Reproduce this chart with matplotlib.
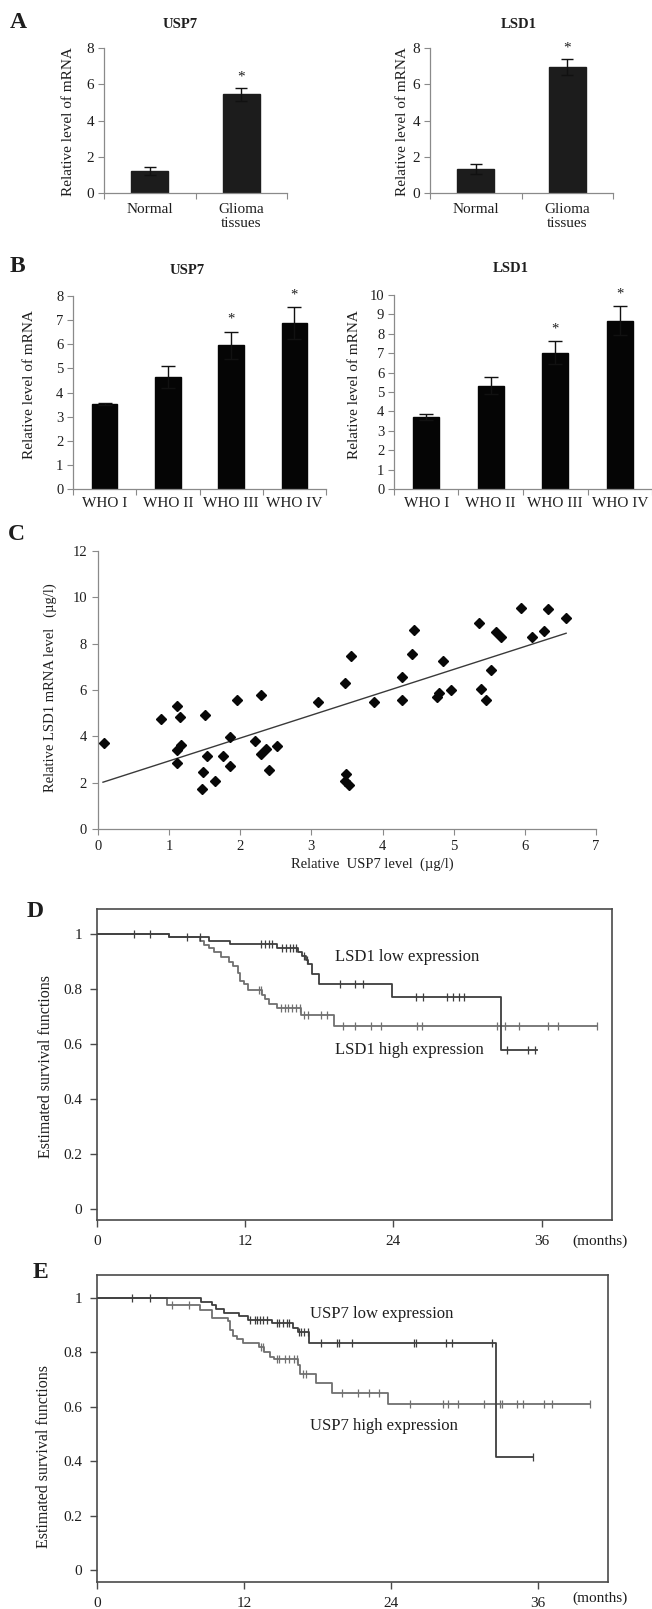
import numpy as np
import matplotlib
matplotlib.use("Agg")
import matplotlib.pyplot as plt

plt.rcParams['font.family'] = ['Liberation Serif', 'DejaVu Serif']
TXT = '#1e1e1e'
SP = '#8a8a8a'

# ---------------- data ----------------
a_cats = ['Normal', 'Glioma\ntissues']
a_usp7 = [1.22, 5.45]
a_usp7_err = [0.2, 0.35]
a_lsd1 = [1.32, 6.95]
a_lsd1_err = [0.28, 0.45]
a_star = [False, True]

b_cats = ['WHO I', 'WHO II', 'WHO III', 'WHO IV']
b_usp7 = [3.52, 4.65, 5.95, 6.88]
b_usp7_err = [0.05, 0.45, 0.57, 0.65]
b_lsd1 = [3.72, 5.33, 7.02, 8.68]
b_lsd1_err = [0.15, 0.42, 0.6, 0.75]
b_star = [False, False, True, True]

c_usp7 = [0.08, 0.89, 1.11, 1.15, 1.11, 1.16, 1.11, 1.51, 1.53, 1.48, 1.46, 1.64,
          1.75, 1.85, 1.85, 1.96, 2.21, 2.29, 2.29, 2.36, 2.40, 2.51, 3.09, 3.47,
          3.55, 3.49, 3.47, 3.53, 3.88, 4.28, 4.28, 4.42, 4.44, 4.77, 4.79, 4.85,
          4.96, 5.35, 5.39, 5.45, 5.52, 5.59, 5.67, 5.94, 6.10, 6.27, 6.33, 6.58]
c_lsd1 = [3.73, 4.73, 5.32, 4.85, 3.41, 3.63, 2.87, 4.90, 3.17, 2.45, 1.73, 2.08,
          3.14, 2.70, 3.96, 5.58, 3.81, 5.78, 3.23, 3.44, 2.55, 3.57, 5.48, 6.32,
          7.48, 2.38, 2.09, 1.91, 5.48, 6.54, 5.58, 7.57, 8.59, 5.68, 5.89, 7.25,
          6.02, 8.89, 6.05, 5.58, 6.85, 8.50, 8.27, 9.56, 8.29, 8.53, 9.48, 9.09]
c_trend_x = [0.07, 6.58]
c_trend_y = [2.02, 8.45]

d_low_t = [0, 5.8, 9.1, 10.8, 14.6, 16.3, 16.6, 16.9, 17.1, 17.4, 18.0, 23.9, 32.7]
d_low_s = [1.0, 0.99, 0.975, 0.963, 0.95, 0.935, 0.92, 0.905, 0.89, 0.855, 0.818, 0.77, 0.58]
d_low_end = 35.6
d_low_cens = [3.0, 4.3, 7.3, 8.3, 13.3, 13.6, 13.9, 14.2, 15.0, 15.3, 15.6, 15.9, 16.1,
              16.8, 17.0, 19.7, 20.9, 21.5, 25.8, 26.4, 28.3, 28.8, 29.3, 29.7, 33.2, 34.9, 35.5]
d_high_t = [0, 5.8, 8.35, 8.7, 9.1, 9.5, 10.0, 10.7, 11.05, 11.4, 11.6, 11.9, 12.2,
            13.35, 13.6, 13.9, 14.6, 16.5, 19.2]
d_high_s = [1.0, 0.99, 0.975, 0.96, 0.948, 0.935, 0.918, 0.90, 0.882, 0.858, 0.83, 0.818,
            0.797, 0.78, 0.762, 0.745, 0.73, 0.705, 0.664]
d_high_end = 40.5
d_high_cens = [13.1, 13.3, 14.9, 15.2, 15.5, 15.8, 16.1, 16.4, 16.8, 17.1, 18.1, 18.6,
               19.9, 20.9, 22.2, 23.0, 25.9, 26.3, 32.4, 33.0, 34.2, 36.5, 37.3, 40.5]

e_low_t = [0, 8.5, 9.4, 9.7, 10.4, 11.6, 12.3, 14.3, 16.0, 16.4, 17.3, 32.6]
e_low_s = [1.0, 0.985, 0.973, 0.96, 0.947, 0.936, 0.92, 0.908, 0.89, 0.877, 0.834, 0.416]
e_low_end = 35.6
e_low_cens = [2.9, 4.3, 12.5, 12.9, 13.1, 13.3, 13.6, 13.9, 14.7, 14.9, 15.2, 15.5, 15.7,
              16.5, 16.7, 16.9, 17.2, 18.3, 19.6, 19.8, 20.8, 25.9, 26.1, 28.5, 29.0, 32.3, 35.6]
e_high_t = [0, 5.7, 8.4, 9.4, 10.7, 10.85, 11.1, 11.4, 11.9, 13.2, 13.65, 14.1, 14.5,
            16.4, 16.6, 17.9, 19.2, 23.8]
e_high_s = [1.0, 0.973, 0.957, 0.926, 0.914, 0.883, 0.86, 0.85, 0.834, 0.822, 0.80, 0.785,
            0.775, 0.755, 0.72, 0.687, 0.65, 0.611]
e_high_end = 40.3
e_high_cens = [6.1, 7.5, 13.4, 13.6, 14.7, 14.9, 15.4, 15.7, 16.1, 16.3, 16.8, 17.1, 20.0,
               21.3, 22.2, 23.0, 25.6, 28.3, 28.7, 29.5, 31.6, 32.9, 33.1, 34.3, 34.8,
               36.5, 37.2, 40.3]

km_ticks = [0, 12, 24, 36]
km_yticks = [0, 0.2, 0.4, 0.6, 0.8, 1.0]
km_yticklabels = ['0', '0.2', '0.4', '0.6', '0.8', '1']

# ---------------- figure ----------------
W, H = 652, 1609
fig = plt.figure(figsize=(W / 100, H / 100), dpi=100)


def ax_at(x0, y0, x1, y1):
    return fig.add_axes([x0 / W, 1 - y1 / H, (x1 - x0) / W, (y1 - y0) / H])


def ftext(x, y, s, **kw):
    kw.setdefault('color', TXT)
    return fig.text(x / W, 1 - y / H, s, **kw)


def bar_panel(ax, cats, vals, errs, stars, ymax, ystep, color, capsize, fs_y, fs_x, pad):
    n = len(cats)
    xs = np.arange(n)
    ax.bar(xs, vals, width=0.4, color=color, edgecolor=color, zorder=2)
    ax.errorbar(xs, vals, yerr=errs, fmt='none', ecolor='#111111', elinewidth=1.0,
                capsize=capsize, capthick=1.0, zorder=3)
    for x, v, e, s in zip(xs, vals, errs, stars):
        if s:
            ax.text(x, v + e + ymax * 0.03, '*', ha='center', va='bottom', fontsize=fs_y,
                    color=TXT)
    ax.set_xlim(-0.5, n - 0.5)
    ax.set_ylim(0, ymax)
    ax.set_yticks(np.arange(0, ymax + 0.01, ystep))
    ax.set_xticks(np.arange(-0.5, n, 1.0))
    ax.set_xticklabels([])
    ax.set_xticks(xs, cats, minor=True)
    ax.tick_params(axis='x', which='minor', length=0, pad=pad, labelsize=fs_x, labelcolor=TXT)
    ax.tick_params(axis='x', which='major', length=4, color=SP, direction='out')
    ax.tick_params(axis='y', length=4, color=SP, labelsize=fs_y, labelcolor=TXT, pad=3)
    for s in ['top', 'right']:
        ax.spines[s].set_visible(False)
    for s in ['left', 'bottom']:
        ax.spines[s].set_color(SP)
        ax.spines[s].set_linewidth(0.9)
    for lab in ax.get_xticklabels(minor=True):
        lab.set_linespacing(1.15)


# Panel A
ftext(10, 22, 'A', fontsize=17, fontweight='bold', ha='left', va='center')
ftext(180, 25, 'USP7', fontsize=10.5, fontweight='bold', ha='center', va='center')
ftext(519, 25, 'LSD1', fontsize=10.5, fontweight='bold', ha='center', va='center')
axA1 = ax_at(104, 48, 287, 193)
bar_panel(axA1, a_cats, a_usp7, a_usp7_err, a_star, 8, 2, '#1c1c1c', 4.6, 11, 11, 7)
axA2 = ax_at(430, 48, 613, 193)
bar_panel(axA2, a_cats, a_lsd1, a_lsd1_err, a_star, 8, 2, '#1c1c1c', 4.6, 11, 11, 7)
ftext(69, 122, 'Relative level of mRNA', fontsize=11, rotation=90, ha='center', va='center')
ftext(402, 122, 'Relative level of mRNA', fontsize=11, rotation=90, ha='center', va='center')

# Panel B
ftext(10, 267, 'B', fontsize=17, fontweight='bold', ha='left', va='center')
ftext(187, 271, 'USP7', fontsize=10.5, fontweight='bold', ha='center', va='center')
ftext(511, 269, 'LSD1', fontsize=10.5, fontweight='bold', ha='center', va='center')
axB1 = ax_at(73, 296, 326, 489)
bar_panel(axB1, b_cats, b_usp7, b_usp7_err, b_star, 8, 1, '#050505', 5.2, 10.5, 11, 6)
axB2 = ax_at(394, 295, 652, 489)
bar_panel(axB2, b_cats, b_lsd1, b_lsd1_err, b_star, 10, 1, '#050505', 5.2, 10.5, 11, 6)
ftext(30, 385, 'Relative level of mRNA', fontsize=11, rotation=90, ha='center', va='center')
ftext(355, 385, 'Relative level of mRNA', fontsize=11, rotation=90, ha='center', va='center')

# Panel C
ftext(8, 534, 'C', fontsize=17, fontweight='bold', ha='left', va='center')
axC = ax_at(98, 551, 596, 829)
axC.plot(c_usp7, c_lsd1, linestyle='none', marker='D', markersize=5.2, color='#080808', zorder=3)
axC.plot(c_trend_x, c_trend_y, color='#3a3a3a', linewidth=1.0, zorder=2)
axC.set_xlim(0, 7)
axC.set_ylim(0, 12)
axC.set_xticks(range(0, 8))
axC.set_yticks(range(0, 13, 2))
axC.tick_params(length=4, color=SP, labelsize=10.5, labelcolor=TXT, pad=4)
for s in ['top', 'right']:
    axC.spines[s].set_visible(False)
for s in ['left', 'bottom']:
    axC.spines[s].set_color(SP)
    axC.spines[s].set_linewidth(0.9)
ftext(372, 864, 'Relative  USP7 level  (\u00b5g/l)', fontsize=10.5, ha='center', va='center')
ftext(50, 688, 'Relative LSD1 mRNA level   (\u00b5g/l)', fontsize=10.5, rotation=90,
      ha='center', va='center')


def km(ax, t, s, end, cens, color):
    tt = list(t) + [end]
    ss = list(s) + [s[-1]]
    ax.step(tt, ss, where='post', color=color, linewidth=1.3, zorder=3)
    ta = np.asarray(t)
    sa = np.asarray(s)
    cy = [sa[np.searchsorted(ta, c, side='right') - 1] for c in cens]
    ax.plot(cens, cy, linestyle='none', marker='|', markersize=6, markeredgewidth=0.9,
            color=color, zorder=3)


def km_axes(ax, xmax, ymin, ymax):
    ax.set_xlim(0, xmax)
    ax.set_ylim(ymin, ymax)
    ax.set_xticks(km_ticks)
    ax.set_yticks(km_yticks, km_yticklabels)
    ax.tick_params(length=5, width=1.0, color='#4a4a4a', labelsize=11, labelcolor=TXT, pad=5.5)
    for sp in ax.spines.values():
        sp.set_color('#4a4a4a')
        sp.set_linewidth(1.2)


# Panel D
ftext(27, 912, 'D', fontsize=17, fontweight='bold', ha='left', va='center')
axD = ax_at(97, 909, 612, 1220)
km(axD, d_high_t, d_high_s, d_high_end, d_high_cens, '#707070')
km(axD, d_low_t, d_low_s, d_low_end, d_low_cens, '#3e3e3e')
km_axes(axD, 41.7, -0.04, 1.091)
axD.text(19.3, 0.918, 'LSD1 low expression', fontsize=12, color=TXT, va='center', ha='left')
axD.text(19.3, 0.58, 'LSD1 high expression', fontsize=12, color=TXT, va='center', ha='left')
ftext(600, 1241, '(months)', fontsize=11, ha='center', va='center')
ftext(46, 1066, 'Estimated survival functions', fontsize=11.5, rotation=90, ha='center',
      va='center')

# Panel E
ftext(33, 1273, 'E', fontsize=17, fontweight='bold', ha='left', va='center')
axE = ax_at(97, 1275, 608, 1582)
km(axE, e_high_t, e_high_s, e_high_end, e_high_cens, '#707070')
km(axE, e_low_t, e_low_s, e_low_end, e_low_cens, '#3e3e3e')
km_axes(axE, 41.75, -0.044, 1.085)
axE.text(17.4, 0.94, 'USP7 low expression', fontsize=12, color=TXT, va='center', ha='left')
axE.text(17.4, 0.528, 'USP7 high expression', fontsize=12, color=TXT, va='center', ha='left')
ftext(600, 1598, '(months)', fontsize=11, ha='center', va='center')
ftext(44, 1456, 'Estimated survival functions', fontsize=11.5, rotation=90, ha='center',
      va='center')

fig.savefig('out.png', dpi=100)
